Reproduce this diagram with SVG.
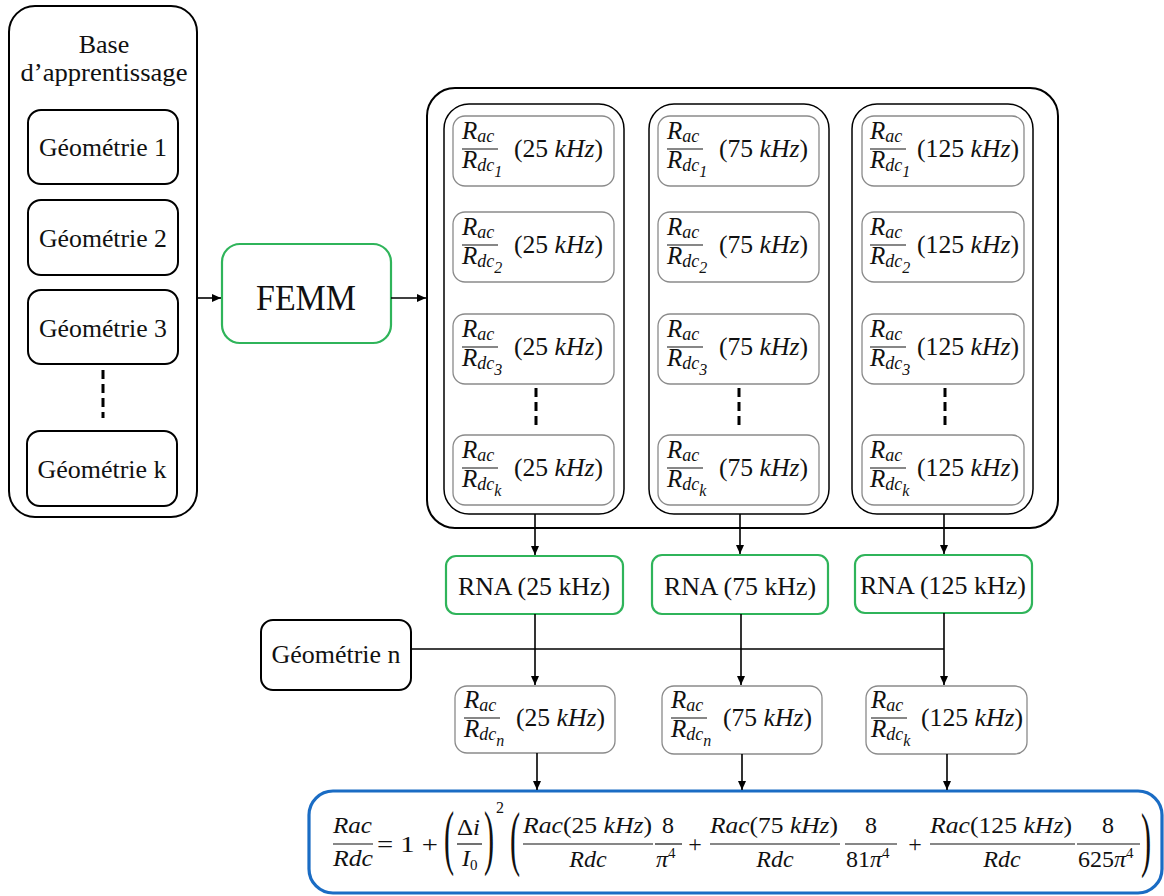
<svg xmlns="http://www.w3.org/2000/svg" width="1164" height="896" viewBox="0 0 1164 896">
<defs>
<marker id="ah" markerWidth="10" markerHeight="10" refX="9" refY="5" orient="auto" markerUnits="userSpaceOnUse">
<path d="M0,1 L9,5 L0,9 Z" fill="#000"/>
</marker>
<style>
.bk{fill:#fff;stroke:#000;stroke-width:2}
.col{fill:#fff;stroke:#000;stroke-width:1.5}
.gr{fill:#fff;stroke:#8a8a8a;stroke-width:1.3}
.gn{fill:#fff;stroke:#2fb45a;stroke-width:2.2}
.bl{fill:#fff;stroke:#1a6cc4;stroke-width:3.2}
.lbl{font-family:"Liberation Serif",serif;font-size:26px;fill:#111;text-anchor:middle}
.mi{font-family:"Liberation Serif",serif;font-style:italic;font-size:25px;fill:#111}
.mr{font-family:"Liberation Serif",serif;font-size:25px;fill:#111}
.fi{font-family:"Liberation Serif",serif;font-style:italic;font-size:24px;fill:#111}
.fr{font-family:"Liberation Serif",serif;font-size:24px;fill:#111}
.it{font-style:italic}
.up{font-style:normal}
.sub{font-size:18px;font-style:italic}
.sub2{font-size:16px;font-style:italic}
.fl{stroke:#111;stroke-width:1.2}
.cn{stroke:#000;stroke-width:1.6;fill:none}
.dash{stroke:#000;stroke-width:3;stroke-dasharray:9,5;fill:none}
.big{font-family:"Liberation Serif",serif;font-size:72px;fill:#111}
.sup{font-size:15px;font-style:normal}
</style>
</defs>

<!-- Left base -->
<g id="base">
<rect class="bk" x="9" y="6" width="188" height="511" rx="26"/>
<text class="lbl" x="104" y="53">Base</text>
<text class="lbl" x="104" y="81" textLength="167" lengthAdjust="spacingAndGlyphs">d’apprentissage</text>
</g>
<g id="geo1"><rect class="bk" x="28" y="110" width="150" height="74" rx="13"/><text class="lbl" x="103" y="156" textLength="128" lengthAdjust="spacingAndGlyphs">Géométrie 1</text></g>
<g id="geo2"><rect class="bk" x="28" y="200" width="150" height="75" rx="13"/><text class="lbl" x="103" y="247" textLength="128" lengthAdjust="spacingAndGlyphs">Géométrie 2</text></g>
<g id="geo3"><rect class="bk" x="28" y="290" width="150" height="74" rx="13"/><text class="lbl" x="103" y="337" textLength="128" lengthAdjust="spacingAndGlyphs">Géométrie 3</text></g>
<line id="geoDots" class="dash" x1="103" y1="370" x2="103" y2="418"/>
<g id="geok"><rect class="bk" x="27" y="431" width="150" height="75" rx="13"/><text class="lbl" x="102" y="478" textLength="129" lengthAdjust="spacingAndGlyphs">Géométrie k</text></g>

<!-- FEMM -->
<g id="femm"><rect class="gn" x="222" y="244" width="169" height="99" rx="18"/><text class="lbl" x="306" y="310" style="font-size:36px" textLength="100" lengthAdjust="spacingAndGlyphs">FEMM</text></g>

<!-- Results container -->
<g id="container"><rect class="bk" x="427" y="88" width="631" height="440" rx="28"/></g>
<g id="col25"><rect class="col" x="444" y="104" width="180" height="410" rx="25"/></g>
<g id="col75"><rect class="col" x="649" y="104" width="180" height="410" rx="25"/></g>
<g id="col125"><rect class="col" x="852" y="104" width="181" height="410" rx="25"/></g>

<!-- column 25 -->
<g id="r25_1" transform="translate(453,116)"><rect class="gr" width="161" height="70" rx="12"/><text class="mi" x="9" y="23">R<tspan class="sub" dy="3">ac</tspan></text><line class="fl" x1="9" y1="33" x2="45" y2="33"/><text class="mi" x="9" y="52">R<tspan class="sub" dy="3">dc</tspan><tspan class="sub2" dy="6">1</tspan></text><text class="mr" x="61" y="41" textLength="89" lengthAdjust="spacingAndGlyphs">(25 <tspan class="it">kHz</tspan>)</text></g>
<g id="r25_2" transform="translate(453,212)"><rect class="gr" width="161" height="70" rx="12"/><text class="mi" x="9" y="23">R<tspan class="sub" dy="3">ac</tspan></text><line class="fl" x1="9" y1="33" x2="45" y2="33"/><text class="mi" x="9" y="52">R<tspan class="sub" dy="3">dc</tspan><tspan class="sub2" dy="6">2</tspan></text><text class="mr" x="61" y="41" textLength="89" lengthAdjust="spacingAndGlyphs">(25 <tspan class="it">kHz</tspan>)</text></g>
<g id="r25_3" transform="translate(453,314)"><rect class="gr" width="161" height="70" rx="12"/><text class="mi" x="9" y="23">R<tspan class="sub" dy="3">ac</tspan></text><line class="fl" x1="9" y1="33" x2="45" y2="33"/><text class="mi" x="9" y="52">R<tspan class="sub" dy="3">dc</tspan><tspan class="sub2" dy="6">3</tspan></text><text class="mr" x="61" y="41" textLength="89" lengthAdjust="spacingAndGlyphs">(25 <tspan class="it">kHz</tspan>)</text></g>
<line class="dash" x1="536" y1="388" x2="536" y2="428"/>
<g id="r25_k" transform="translate(453,435)"><rect class="gr" width="161" height="70" rx="12"/><text class="mi" x="9" y="23">R<tspan class="sub" dy="3">ac</tspan></text><line class="fl" x1="9" y1="33" x2="45" y2="33"/><text class="mi" x="9" y="52">R<tspan class="sub" dy="3">dc</tspan><tspan class="sub2" dy="6">k</tspan></text><text class="mr" x="61" y="41" textLength="89" lengthAdjust="spacingAndGlyphs">(25 <tspan class="it">kHz</tspan>)</text></g>

<!-- column 75 -->
<g id="r75_1" transform="translate(658,116)"><rect class="gr" width="161" height="70" rx="12"/><text class="mi" x="9" y="23">R<tspan class="sub" dy="3">ac</tspan></text><line class="fl" x1="9" y1="33" x2="45" y2="33"/><text class="mi" x="9" y="52">R<tspan class="sub" dy="3">dc</tspan><tspan class="sub2" dy="6">1</tspan></text><text class="mr" x="61" y="41" textLength="89" lengthAdjust="spacingAndGlyphs">(75 <tspan class="it">kHz</tspan>)</text></g>
<g id="r75_2" transform="translate(658,212)"><rect class="gr" width="161" height="70" rx="12"/><text class="mi" x="9" y="23">R<tspan class="sub" dy="3">ac</tspan></text><line class="fl" x1="9" y1="33" x2="45" y2="33"/><text class="mi" x="9" y="52">R<tspan class="sub" dy="3">dc</tspan><tspan class="sub2" dy="6">2</tspan></text><text class="mr" x="61" y="41" textLength="89" lengthAdjust="spacingAndGlyphs">(75 <tspan class="it">kHz</tspan>)</text></g>
<g id="r75_3" transform="translate(658,314)"><rect class="gr" width="161" height="70" rx="12"/><text class="mi" x="9" y="23">R<tspan class="sub" dy="3">ac</tspan></text><line class="fl" x1="9" y1="33" x2="45" y2="33"/><text class="mi" x="9" y="52">R<tspan class="sub" dy="3">dc</tspan><tspan class="sub2" dy="6">3</tspan></text><text class="mr" x="61" y="41" textLength="89" lengthAdjust="spacingAndGlyphs">(75 <tspan class="it">kHz</tspan>)</text></g>
<line class="dash" x1="739" y1="388" x2="739" y2="428"/>
<g id="r75_k" transform="translate(658,435)"><rect class="gr" width="161" height="70" rx="12"/><text class="mi" x="9" y="23">R<tspan class="sub" dy="3">ac</tspan></text><line class="fl" x1="9" y1="33" x2="45" y2="33"/><text class="mi" x="9" y="52">R<tspan class="sub" dy="3">dc</tspan><tspan class="sub2" dy="6">k</tspan></text><text class="mr" x="61" y="41" textLength="89" lengthAdjust="spacingAndGlyphs">(75 <tspan class="it">kHz</tspan>)</text></g>

<!-- column 125 -->
<g id="r125_1" transform="translate(862,116)"><rect class="gr" width="162" height="70" rx="12"/><text class="mi" x="8" y="23">R<tspan class="sub" dy="3">ac</tspan></text><line class="fl" x1="8" y1="33" x2="44" y2="33"/><text class="mi" x="8" y="52">R<tspan class="sub" dy="3">dc</tspan><tspan class="sub2" dy="6">1</tspan></text><text class="mr" x="55" y="41" textLength="102" lengthAdjust="spacingAndGlyphs">(125 <tspan class="it">kHz</tspan>)</text></g>
<g id="r125_2" transform="translate(862,212)"><rect class="gr" width="162" height="70" rx="12"/><text class="mi" x="8" y="23">R<tspan class="sub" dy="3">ac</tspan></text><line class="fl" x1="8" y1="33" x2="44" y2="33"/><text class="mi" x="8" y="52">R<tspan class="sub" dy="3">dc</tspan><tspan class="sub2" dy="6">2</tspan></text><text class="mr" x="55" y="41" textLength="102" lengthAdjust="spacingAndGlyphs">(125 <tspan class="it">kHz</tspan>)</text></g>
<g id="r125_3" transform="translate(862,314)"><rect class="gr" width="162" height="70" rx="12"/><text class="mi" x="8" y="23">R<tspan class="sub" dy="3">ac</tspan></text><line class="fl" x1="8" y1="33" x2="44" y2="33"/><text class="mi" x="8" y="52">R<tspan class="sub" dy="3">dc</tspan><tspan class="sub2" dy="6">3</tspan></text><text class="mr" x="55" y="41" textLength="102" lengthAdjust="spacingAndGlyphs">(125 <tspan class="it">kHz</tspan>)</text></g>
<line class="dash" x1="945" y1="388" x2="945" y2="428"/>
<g id="r125_k" transform="translate(862,435)"><rect class="gr" width="162" height="70" rx="12"/><text class="mi" x="8" y="23">R<tspan class="sub" dy="3">ac</tspan></text><line class="fl" x1="8" y1="33" x2="44" y2="33"/><text class="mi" x="8" y="52">R<tspan class="sub" dy="3">dc</tspan><tspan class="sub2" dy="6">k</tspan></text><text class="mr" x="55" y="41" textLength="102" lengthAdjust="spacingAndGlyphs">(125 <tspan class="it">kHz</tspan>)</text></g>

<!-- RNA -->
<g id="rna25"><rect class="gn" x="446" y="556" width="177" height="58" rx="10"/><text class="lbl" x="534" y="595" textLength="152" lengthAdjust="spacingAndGlyphs">RNA (25 kHz)</text></g>
<g id="rna75"><rect class="gn" x="652" y="555" width="176" height="59" rx="10"/><text class="lbl" x="740" y="595" textLength="152" lengthAdjust="spacingAndGlyphs">RNA (75 kHz)</text></g>
<g id="rna125"><rect class="gn" x="855" y="555" width="177" height="58" rx="10"/><text class="lbl" x="943" y="594" textLength="166" lengthAdjust="spacingAndGlyphs">RNA (125 kHz)</text></g>

<!-- Geometrie n -->
<g id="geon"><rect class="bk" x="261" y="620" width="150" height="70" rx="12"/><text class="lbl" x="336" y="663" textLength="129" lengthAdjust="spacingAndGlyphs">Géométrie n</text></g>

<!-- prediction boxes -->
<g id="p25" transform="translate(455,686)"><rect class="gr" width="160" height="67" rx="12"/><text class="mi" x="9" y="22">R<tspan class="sub" dy="3">ac</tspan></text><line class="fl" x1="9" y1="32" x2="45" y2="32"/><text class="mi" x="9" y="51">R<tspan class="sub" dy="3">dc</tspan><tspan class="sub2" dy="6">n</tspan></text><text class="mr" x="61" y="40" textLength="89" lengthAdjust="spacingAndGlyphs">(25 <tspan class="it">kHz</tspan>)</text></g>
<g id="p75" transform="translate(662,686)"><rect class="gr" width="160" height="68" rx="12"/><text class="mi" x="9" y="22">R<tspan class="sub" dy="3">ac</tspan></text><line class="fl" x1="9" y1="32" x2="45" y2="32"/><text class="mi" x="9" y="51">R<tspan class="sub" dy="3">dc</tspan><tspan class="sub2" dy="6">n</tspan></text><text class="mr" x="61" y="40" textLength="89" lengthAdjust="spacingAndGlyphs">(75 <tspan class="it">kHz</tspan>)</text></g>
<g id="p125" transform="translate(866,686)"><rect class="gr" width="161" height="68" rx="12"/><text class="mi" x="5" y="22">R<tspan class="sub" dy="3">ac</tspan></text><line class="fl" x1="5" y1="32" x2="41" y2="32"/><text class="mi" x="5" y="51">R<tspan class="sub" dy="3">dc</tspan><tspan class="sub2" dy="6">k</tspan></text><text class="mr" x="55" y="40" textLength="102" lengthAdjust="spacingAndGlyphs">(125 <tspan class="it">kHz</tspan>)</text></g>

<!-- Formula -->
<g id="formula">
<rect class="bl" x="309" y="791" width="853" height="102" rx="24"/>
<text class="fi" x="333" y="833" textLength="39" lengthAdjust="spacingAndGlyphs">Rac</text>
<line class="fl" x1="333" y1="844" x2="373" y2="844"/>
<text class="fi" x="333" y="866" textLength="40" lengthAdjust="spacingAndGlyphs">Rdc</text>
<text class="fr" x="377" y="852" textLength="61" lengthAdjust="spacingAndGlyphs">= 1 +</text>
<text class="big" transform="translate(444,861) scale(0.42,1)">(</text>
<text class="fr" x="457" y="835" textLength="23" lengthAdjust="spacingAndGlyphs">Δ<tspan class="it">i</tspan></text>
<line class="fl" x1="457" y1="844" x2="482" y2="844"/>
<text class="fi" x="462" y="866">I<tspan class="sup" dy="4">0</tspan></text>
<text class="big" transform="translate(484,861) scale(0.42,1)">)</text>
<text class="fr" x="496" y="813" style="font-size:16px">2</text>
<text class="big" transform="translate(510,862) scale(0.42,1)">(</text>
<text class="fi" x="523" y="833" textLength="129" lengthAdjust="spacingAndGlyphs">Rac<tspan class="up">(25 </tspan>kHz<tspan class="up">)</tspan></text>
<line class="fl" x1="523" y1="844" x2="653" y2="844"/>
<text class="fi" x="588" y="867" text-anchor="middle">Rdc</text>
<text class="fr" x="668" y="833" text-anchor="middle">8</text>
<line class="fl" x1="655" y1="844" x2="682" y2="844"/>
<text class="fi" x="656" y="867">π<tspan class="sup" dy="-9">4</tspan></text>
<text class="fr" x="695" y="852" text-anchor="middle">+</text>
<text class="fi" x="710" y="833" textLength="128" lengthAdjust="spacingAndGlyphs">Rac<tspan class="up">(75 </tspan>kHz<tspan class="up">)</tspan></text>
<line class="fl" x1="710" y1="844" x2="840" y2="844"/>
<text class="fi" x="775" y="867" text-anchor="middle">Rdc</text>
<text class="fr" x="871" y="833" text-anchor="middle">8</text>
<line class="fl" x1="845" y1="844" x2="897" y2="844"/>
<text class="fr" x="846" y="867">81<tspan class="it">π</tspan><tspan class="sup" dy="-9">4</tspan></text>
<text class="fr" x="915" y="852" text-anchor="middle">+</text>
<text class="fi" x="930" y="833" textLength="142" lengthAdjust="spacingAndGlyphs">Rac<tspan class="up">(125 </tspan>kHz<tspan class="up">)</tspan></text>
<line class="fl" x1="930" y1="844" x2="1075" y2="844"/>
<text class="fi" x="1002" y="867" text-anchor="middle">Rdc</text>
<text class="fr" x="1108" y="833" text-anchor="middle">8</text>
<line class="fl" x1="1077" y1="844" x2="1140" y2="844"/>
<text class="fr" x="1078" y="867">625<tspan class="it">π</tspan><tspan class="sup" dy="-9">4</tspan></text>
<text class="big" transform="translate(1141,863) scale(0.42,1)">)</text>
</g>

<!-- Connectors -->
<g id="connectors">
<line class="cn" x1="197" y1="298" x2="221" y2="298" marker-end="url(#ah)"/>
<line class="cn" x1="391" y1="298" x2="426" y2="298" marker-end="url(#ah)"/>
<line class="cn" x1="535" y1="514" x2="535" y2="555" marker-end="url(#ah)"/>
<line class="cn" x1="740" y1="514" x2="740" y2="554" marker-end="url(#ah)"/>
<line class="cn" x1="944" y1="514" x2="944" y2="554" marker-end="url(#ah)"/>
<line class="cn" x1="411" y1="649" x2="944" y2="649"/>
<line class="cn" x1="535" y1="614" x2="535" y2="685" marker-end="url(#ah)"/>
<line class="cn" x1="741" y1="614" x2="741" y2="685" marker-end="url(#ah)"/>
<line class="cn" x1="944" y1="613" x2="944" y2="685" marker-end="url(#ah)"/>
<line class="cn" x1="537" y1="753" x2="537" y2="790" marker-end="url(#ah)"/>
<line class="cn" x1="742" y1="754" x2="742" y2="790" marker-end="url(#ah)"/>
<line class="cn" x1="947" y1="754" x2="947" y2="790" marker-end="url(#ah)"/>
</g>
</svg>
